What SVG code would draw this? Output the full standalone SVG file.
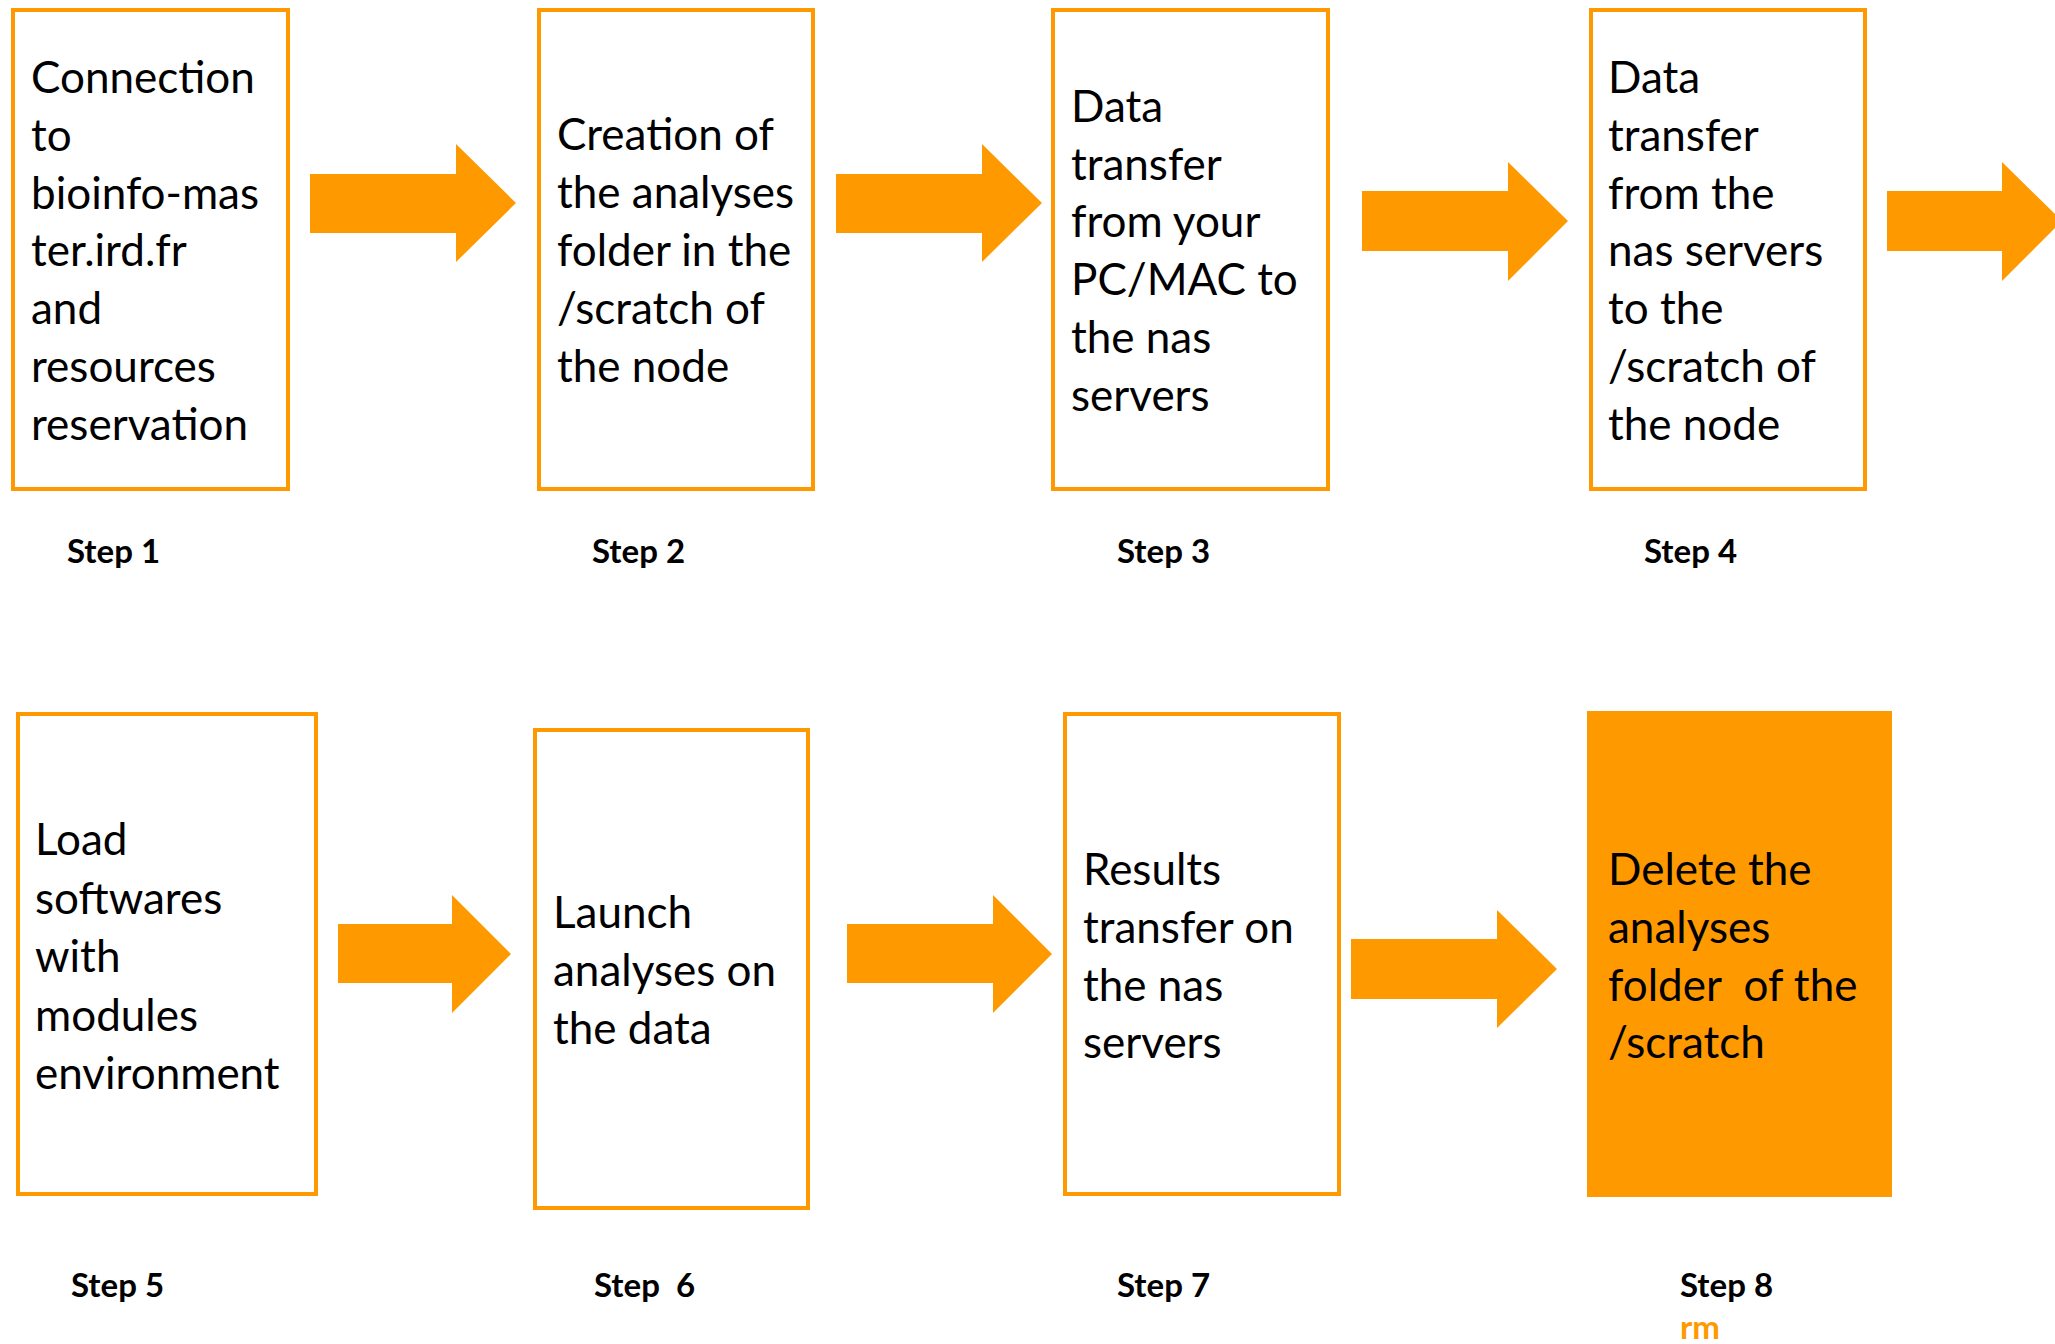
<svg xmlns="http://www.w3.org/2000/svg" width="2055" height="1344" viewBox="0 0 2055 1344">
<style>
.box{fill:#fff;stroke:#FF9900;stroke-width:4}
.fill{fill:#FF9900;stroke:none}
.arrow{fill:#FF9900;stroke:none}
.t{font-family:Lato,"Open Sans","Liberation Sans",sans-serif;font-size:44px;fill:#000}
.s{font-family:Lato,"Open Sans","Liberation Sans",sans-serif;font-size:33px;font-weight:bold;fill:#000}
.rm{font-family:Lato,"Open Sans","Liberation Sans",sans-serif;font-size:33px;font-weight:bold;fill:#FF9900}
</style>
<rect width="2055" height="1344" fill="#fff"/>
<g id="connectors">
<polygon class="arrow" points="310,174 456,174 456,144 516,203 456,262 456,233 310,233"/>
<polygon class="arrow" points="836,174 982,174 982,144 1042,203 982,262 982,233 836,233"/>
<polygon class="arrow" points="1362,191 1508,191 1508,162 1568,221 1508,281 1508,251 1362,251"/>
<polygon class="arrow" points="1887,191 2002,191 2002,162 2062,221 2002,281 2002,251 1887,251"/>
<polygon class="arrow" points="338,924 452,924 452,895 511,954 452,1013 452,983 338,983"/>
<polygon class="arrow" points="847,924 993,924 993,895 1052,954 993,1013 993,983 847,983"/>
<polygon class="arrow" points="1351,939 1497,939 1497,910 1557,969 1497,1028 1497,999 1351,999"/>
</g>
<g id="step1">
<rect class="box" x="13" y="10" width="275" height="479"/>
<text class="t"><tspan x="31" y="93">Connection</tspan><tspan x="31" y="151">to</tspan><tspan x="31" y="209">bioinfo-mas</tspan><tspan x="31" y="266">ter.ird.fr</tspan><tspan x="31" y="324">and</tspan><tspan x="31" y="382">resources</tspan><tspan x="31" y="440">reservation</tspan></text>
<text class="s" x="67" y="563">Step 1</text>
</g>
<g id="step2">
<rect class="box" x="539" y="10" width="274" height="479"/>
<text class="t"><tspan x="557" y="150">Creation of</tspan><tspan x="557" y="208">the analyses</tspan><tspan x="557" y="266">folder in the</tspan><tspan x="557" y="324">/scratch of</tspan><tspan x="557" y="382">the node</tspan></text>
<text class="s" x="592" y="563">Step 2</text>
</g>
<g id="step3">
<rect class="box" x="1053" y="10" width="275" height="479"/>
<text class="t"><tspan x="1071" y="122">Data</tspan><tspan x="1071" y="180">transfer</tspan><tspan x="1071" y="237">from your</tspan><tspan x="1071" y="295">PC/MAC to</tspan><tspan x="1071" y="353">the nas</tspan><tspan x="1071" y="411">servers</tspan></text>
<text class="s" x="1117" y="563">Step 3</text>
</g>
<g id="step4">
<rect class="box" x="1591" y="10" width="274" height="479"/>
<text class="t"><tspan x="1608" y="93">Data</tspan><tspan x="1608" y="151">transfer</tspan><tspan x="1608" y="209">from the</tspan><tspan x="1608" y="266">nas servers</tspan><tspan x="1608" y="324">to the</tspan><tspan x="1608" y="382">/scratch of</tspan><tspan x="1608" y="440">the node</tspan></text>
<text class="s" x="1644" y="563">Step 4</text>
</g>
<g id="step5">
<rect class="box" x="18" y="714" width="298" height="480"/>
<text class="t"><tspan x="35" y="855">Load</tspan><tspan x="35" y="914">softwares</tspan><tspan x="35" y="972">with</tspan><tspan x="35" y="1031">modules</tspan><tspan x="35" y="1089">environment</tspan></text>
<text class="s" x="71" y="1297">Step 5</text>
</g>
<g id="step6">
<rect class="box" x="535" y="730" width="273" height="478"/>
<text class="t"><tspan x="553" y="928">Launch</tspan><tspan x="553" y="986">analyses on</tspan><tspan x="553" y="1044">the data</tspan></text>
<text class="s" x="594" y="1297" xml:space="preserve">Step  6</text>
</g>
<g id="step7">
<rect class="box" x="1065" y="714" width="274" height="480"/>
<text class="t"><tspan x="1083" y="885">Results</tspan><tspan x="1083" y="943">transfer on</tspan><tspan x="1083" y="1001">the nas</tspan><tspan x="1083" y="1058">servers</tspan></text>
<text class="s" x="1117" y="1297">Step 7</text>
</g>
<g id="step8">
<rect class="fill" x="1587" y="711" width="305" height="486"/>
<text class="t" xml:space="preserve"><tspan x="1608" y="885">Delete the</tspan><tspan x="1608" y="943">analyses</tspan><tspan x="1608" y="1001">folder  of the</tspan><tspan x="1608" y="1058">/scratch</tspan></text>
<text class="s" x="1680" y="1297">Step 8</text>
<text class="rm" x="1680" y="1339">rm</text>
</g>
</svg>
